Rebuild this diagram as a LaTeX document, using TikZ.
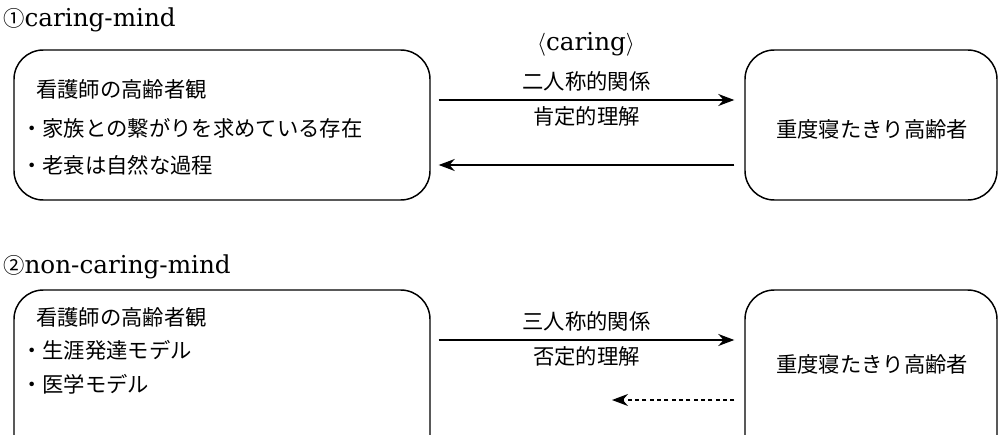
\documentclass[tikz,border=0pt]{standalone}
\usepackage{fontspec}
\setmainfont{DejaVu Serif}
\newfontfamily\cjk{Noto Sans CJK JP}
\usetikzlibrary{arrows.meta,calc}
\begin{document}
\begin{tikzpicture}[x=0.75pt,y=-0.75pt,
  box/.style={draw,line width=1.1pt,rounded corners=22pt,inner sep=0pt},
  jp/.style={font=\cjk\fontsize{16pt}{18pt}\selectfont,inner sep=0pt},
  ttl/.style={font=\fontsize{18.5pt}{21pt}\selectfont,inner sep=0pt,anchor=west},
  arr/.style={line width=1.1pt,-{Stealth[length=12pt,width=9pt]}},
  darr/.style={line width=1.1pt,dash pattern=on 3pt off 2.5pt,-{Stealth[length=12pt,width=9pt]}}]
\useasboundingbox (0,0) rectangle (1000,435);
\clip (0,0) rectangle (1000,435);
% section 1
\node[ttl] (t1) at (3,20) {{\cjk\fontsize{16pt}{18pt}\selectfont ①}caring-mind};
\node[box,minimum width=416pt*0.75,minimum height=150pt*0.75] (L1) at (222,125) {};
\node[box,minimum width=252pt*0.75,minimum height=150pt*0.75] (R1) at (871,125) {};
\node[jp,anchor=west] (l1a) at (36,89) {看護師の高齢者観};
\node[jp,anchor=west] (l1b) at (21,128) {・家族との繋がりを求めている存在};
\node[jp,anchor=west] (l1c) at (21,165) {・老衰は自然な過程};
\node[jp] (r1t) at (872,129) {重度寝たきり高齢者};
\draw[arr] ($(L1.east)+(8,-25)$) -- node[jp,above=6pt] (c1) {二人称的関係} node[jp,below=4pt] (c2) {肯定的理解} ($(R1.west)+(-10,-25)$);
\node[ttl,anchor=center] (cr) at (586,44) {$\langle$caring$\rangle$};
\draw[arr] ($(R1.west)+(-10,40)$) -- ($(L1.east)+(8,40)$);
% section 2
\node[ttl] (t2) at (3,267) {{\cjk\fontsize{16pt}{18pt}\selectfont ②}non-caring-mind};
\node[box,minimum width=416pt*0.75,minimum height=180pt*0.75] (L2) at (222,380) {};
\node[box,minimum width=252pt*0.75,minimum height=180pt*0.75] (R2) at (871,380) {};
\node[jp,anchor=west] (l2a) at (36,317) {看護師の高齢者観};
\node[jp,anchor=west] (l2b) at (21,350) {・生涯発達モデル};
\node[jp,anchor=west] (l2c) at (21,384) {・医学モデル};
\node[jp] (r2t) at (872,364) {重度寝たきり高齢者};
\draw[arr] ($(L2.east)+(8,-40)$) -- node[jp,above=6pt] (c3) {三人称的関係} node[jp,below=4pt] (c4) {否定的理解} ($(R2.west)+(-10,-40)$);
\coordinate (dend) at (612,400);
\draw[darr] ($(R2.west)+(-10,20)$) -- (dend);
\end{tikzpicture}
\end{document}
